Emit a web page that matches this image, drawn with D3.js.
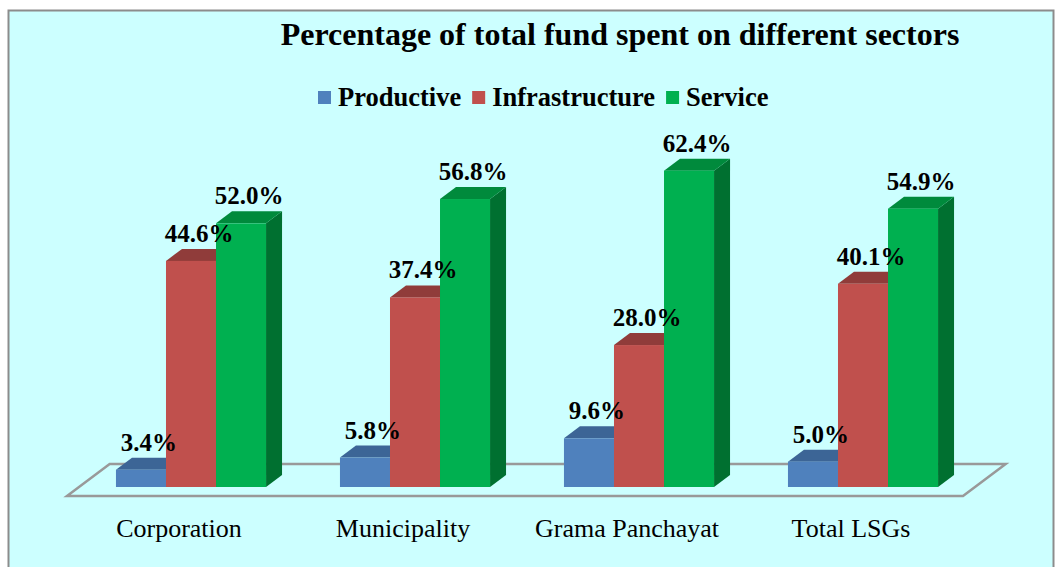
<!DOCTYPE html>
<html>
<head>
<meta charset="utf-8">
<script src="https://cdn.jsdelivr.net/npm/d3@7.9.0/dist/d3.min.js"></script>
<style>
  body { margin: 0; background: #fff; }
  svg { display: block; }
</style>
</head>
<body>
<svg width="1055" height="567"></svg>
<script>
const categories = ['Corporation', 'Municipality', 'Grama Panchayat', 'Total LSGs'];
const seriesNames = ['Productive', 'Infrastructure', 'Service'];
const productive = [3.4, 5.8, 9.6, 5.0];
const infrastructure = [44.6, 37.4, 28.0, 40.1];
const service = [52.0, 56.8, 62.4, 54.9];

const seriesValues = [productive, infrastructure, service];
const front = ['#4f81bd', '#c0504d', '#00b050'];
const topC = ['#3c6596', '#903c3a', '#008a3c'];
const sideC = ['#2f5383', '#7d3331', '#007030'];

const svg = d3.select('svg');
const font = '"Liberation Serif", "Times New Roman", serif';

// panel
svg.append('rect').attr('x', 8.5).attr('y', 10.5).attr('width', 1045).attr('height', 560)
  .attr('fill', '#ccffff').attr('stroke', '#8c8c8c').attr('stroke-width', 2);

svg.append('text').attr('x', 620).attr('y', 45).attr('text-anchor', 'middle')
  .attr('font-family', font).attr('font-weight', 'bold').attr('font-size', 32)
  .text('Percentage of total fund spent on different sectors');

// legend
let lx = 318;
seriesNames.forEach((name, i) => {
  svg.append('rect').attr('x', lx).attr('y', 91).attr('width', 13).attr('height', 13).attr('fill', front[i]);
  const t = svg.append('text').attr('x', lx + 20).attr('y', 106)
    .attr('font-family', font).attr('font-weight', 'bold').attr('font-size', 26.5).text(name);
  lx += 20 + t.node().getComputedTextLength() + 11;
});

const base = 487;
const x = d3.scaleBand().domain(categories).range([79, 975]).paddingInner(0.33).paddingOuter(0.165);
const xs = d3.scaleBand().domain(d3.range(3)).range([0, x.bandwidth()]);
const y = d3.scaleLinear().domain([0, 70]).range([base, base - 70 * 5.07]);

// depth
const ddx = 16, ddy = 12;
const k = ddx / ddy;
const fFront = 9, fBack = 23;

// floor
const r0 = x.range()[0], r1 = x.range()[1];
const floor = [
  [r0 - fFront * k, base + fFront], [r1 - fFront * k, base + fFront],
  [r1 + fBack * k, base - fBack], [r0 + fBack * k, base - fBack]
];
svg.append('polygon').attr('points', floor.map(p => p.join(',')).join(' '))
  .attr('fill', 'none').attr('stroke', '#999').attr('stroke-width', 2.5);

// bars
categories.forEach((c, ci) => {
  seriesValues.forEach((vals, si) => {
    const x0 = x(c) + xs(si), x1 = x0 + xs.bandwidth();
    const yt = y(vals[ci]);
    const g = svg.append('g');
    g.append('polygon').attr('fill', sideC[si])
      .attr('points', [[x1, base], [x1 + ddx, base - ddy], [x1 + ddx, yt - ddy], [x1, yt]].map(p => p.join(',')).join(' '));
    g.append('polygon').attr('fill', topC[si])
      .attr('points', [[x0, yt], [x1, yt], [x1 + ddx, yt - ddy], [x0 + ddx, yt - ddy]].map(p => p.join(',')).join(' '));
    g.append('rect').attr('x', x0).attr('y', yt).attr('width', x1 - x0).attr('height', base - yt).attr('fill', front[si]);
  });
});

// value labels
categories.forEach((c, ci) => {
  seriesValues.forEach((vals, si) => {
    const cx = x(c) + xs(si) + xs.bandwidth() / 2 + ddx / 2;
    svg.append('text').attr('x', cx).attr('y', y(vals[ci]) - ddy - 7)
      .attr('text-anchor', 'middle').attr('font-family', font).attr('font-weight', 'bold')
      .attr('font-size', 25).text(vals[ci].toFixed(1) + '%');
  });
});

// category labels
categories.forEach(c => {
  svg.append('text').attr('x', x(c) + x.bandwidth() / 2 - fFront * k).attr('y', 537)
    .attr('text-anchor', 'middle').attr('font-family', font).attr('font-size', 26).text(c);
});
</script>
</body>
</html>
